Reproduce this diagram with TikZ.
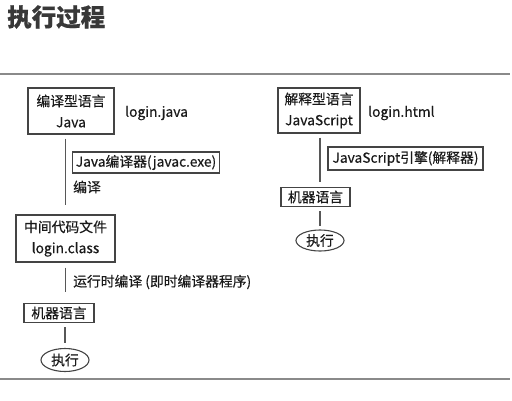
\documentclass[tikz,border=0pt]{standalone}
\usepackage{fontspec}
\setmainfont{Noto Sans CJK SC}[RawFeature={embolden=0.45}]
\usetikzlibrary{shapes.geometric}
\definecolor{txt}{HTML}{1A1A1A}
\definecolor{frame}{HTML}{8A8A8A}
\definecolor{edge}{HTML}{444444}
\begin{document}
\begin{tikzpicture}[x=1pt,y=-1pt,
  every node/.style={text=txt,font=\fontsize{13.8}{21}\selectfont,inner sep=0pt},
  box/.style={draw=edge,line width=1.1pt,align=center},
  oval/.style={draw=edge,line width=1.1pt,ellipse},
  conn/.style={draw=edge!90!white,line width=1.4pt},
  plain/.style={anchor=west}]
\useasboundingbox (0,0) rectangle (512,400);
\node[font=\fontsize{24.5}{27}\selectfont\bfseries,text=black!78,anchor=west] (title) at (7,17) {执行过程};
\draw[frame,line width=2pt] (0,74) -- (510,74);
\draw[frame,line width=2pt] (0,379) -- (510,379);
% left column
\node[box,minimum width=86,minimum height=46] (b1) at (71,111) {编译型语言\\Java};
\node[plain] (lj) at (125,113) {login.java};
\node[box,minimum width=147,minimum height=21] (javac) at (146,162.5) {Java编译器(javac.exe)};
\node[plain] (by) at (73,187) {编译};
\node[box,minimum width=99,minimum height=47] (mid) at (65.5,238.5) {中间代码文件\\login.class};
\node[plain] (jit) at (73,282) {运行时编译 (即时编译器程序)};
\node[box,minimum width=70,minimum height=19] (m1) at (59,313) {机器语言};
\node[oval,minimum width=48,minimum height=23] (e1) at (65,360) {执行};
\draw[conn,shorten <=4pt,shorten >=9pt] (b1.south -| mid.north) -- (mid.north);
\draw[conn,shorten <=5pt,shorten >=11pt] (mid.south) -- (mid.south |- m1.north);
\draw[conn,shorten <=4pt,shorten >=5pt] (m1.south -| e1.north) -- (e1.north);
% right column
\node[box,minimum width=82,minimum height=45] (b2) at (319,110.5) {解释型语言\\JavaScript};
\node[plain] (lh) at (368,113) {login.html};
\node[box,minimum width=155,minimum height=23] (jse) at (405.5,158.5) {JavaScript引擎(解释器)};
\node[box,minimum width=69,minimum height=19] (m2) at (315.5,197) {机器语言};
\node[oval,minimum width=48,minimum height=21] (e2) at (320,240.5) {执行};
\draw[conn,shorten <=4pt,shorten >=5pt] (b2.south -| e2.north) -- (m2.north -| e2.north);
\draw[conn,shorten <=4pt,shorten >=3pt] (m2.south -| e2.north) -- (e2.north);
\end{tikzpicture}
\end{document}
